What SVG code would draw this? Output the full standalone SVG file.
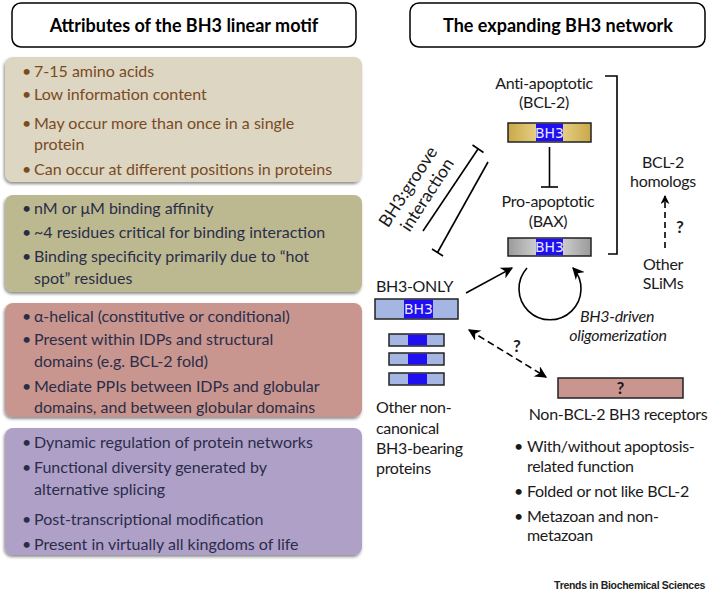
<svg xmlns="http://www.w3.org/2000/svg" width="708" height="594" viewBox="0 0 708 594">
<defs>
  <filter id="sh" x="-5%" y="-5%" width="110%" height="115%">
    <feDropShadow dx="-1" dy="2" stdDeviation="1.5" flood-color="#000" flood-opacity="0.45"/>
  </filter>
  <linearGradient id="gold" x1="0" x2="1" y1="0" y2="0">
    <stop offset="0" stop-color="#c9a848"/>
    <stop offset="0.4" stop-color="#ead48c"/>
    <stop offset="0.6" stop-color="#ead48c"/>
    <stop offset="1" stop-color="#c9a848"/>
  </linearGradient>
  <linearGradient id="grey" x1="0" x2="1" y1="0" y2="0">
    <stop offset="0" stop-color="#9a9a9a"/>
    <stop offset="0.4" stop-color="#d6d6d6"/>
    <stop offset="0.6" stop-color="#d6d6d6"/>
    <stop offset="1" stop-color="#9a9a9a"/>
  </linearGradient>
  <marker id="ah" viewBox="0 0 10 10" refX="9" refY="5" markerWidth="9" markerHeight="9" orient="auto-start-reverse" markerUnits="userSpaceOnUse">
    <path d="M0,0 L10,5 L0,10 L3,5 Z" fill="#000"/>
  </marker>
  <marker id="ahs" viewBox="0 0 10 10" refX="9" refY="5" markerWidth="12" markerHeight="12" orient="auto-start-reverse" markerUnits="userSpaceOnUse">
    <path d="M0,0 L10,5 L0,10 L3,5 Z" fill="#000"/>
  </marker>
</defs>
<style>
  text { font-family: Lato, "Liberation Sans", sans-serif; }
  .title { font-size: 18px; font-weight: bold; fill: #000; text-anchor: middle; }
  .lt { font-size: 16px; }
  .b1 { fill: #7b4a1f; }
  .bd { fill: #2b2d48; }
  .lbl { font-size: 16px; fill: #1a1a1a; letter-spacing: -0.3px; }
  .big { font-size: 17.5px; letter-spacing: 0; }
  .c { text-anchor: middle; }
  .it { font-style: italic; }
  .q { font-weight: bold; font-size: 17px; }
  .bh3 { font-family: "DejaVu Sans", sans-serif; font-size: 14px; fill: #e8e8ff; text-anchor: middle; }
  .ln { stroke: #000; stroke-width: 1.6; fill: none; }
  .bar { stroke: #222; stroke-width: 1.5; }
</style>

<g id="title-left">
  <rect x="12" y="3" width="344" height="44" rx="9" fill="#fff" stroke="#000" stroke-width="1.5"/>
  <text class="title" x="184" y="32">Attributes of the BH3 linear motif</text>
</g>
<g id="title-right">
  <rect x="410" y="3" width="295" height="44" rx="9" fill="#fff" stroke="#000" stroke-width="1.5"/>
  <text class="title" x="558" y="32">The expanding BH3 network</text>
</g>

<g id="box1">
  <rect x="5" y="57" width="357" height="125" rx="8" fill="#dcd6c2" filter="url(#sh)"/>
  <g class="lt b1">
    <text x="22" y="77">•</text><text x="34" y="77">7-15 amino acids</text>
    <text x="22" y="100">•</text><text x="34" y="100">Low information content</text>
    <text x="22" y="129">•</text><text x="34" y="129">May occur more than once in a single</text>
    <text x="34" y="150">protein</text>
    <text x="22" y="175">•</text><text x="34" y="175">Can occur at different positions in proteins</text>
  </g>
</g>
<g id="box2">
  <rect x="5" y="195" width="357" height="97" rx="8" fill="#bcb991" filter="url(#sh)"/>
  <g class="lt bd">
    <text x="22" y="214">•</text><text x="34" y="214">nM or μM binding affinity</text>
    <text x="22" y="238">•</text><text x="34" y="238">~4 residues critical for binding interaction</text>
    <text x="22" y="262">•</text><text x="34" y="262">Binding specificity primarily due to “hot</text>
    <text x="34" y="284">spot” residues</text>
  </g>
</g>
<g id="box3">
  <rect x="5" y="303" width="357" height="114" rx="8" fill="#c8968f" filter="url(#sh)"/>
  <g class="lt bd">
    <text x="22" y="322">•</text><text x="34" y="322">α-helical (constitutive or conditional)</text>
    <text x="22" y="345">•</text><text x="34" y="345">Present within IDPs and structural</text>
    <text x="34" y="367">domains (e.g. BCL-2 fold)</text>
    <text x="22" y="392">•</text><text x="34" y="392">Mediate PPIs between IDPs and globular</text>
    <text x="34" y="413">domains, and between globular domains</text>
  </g>
</g>
<g id="box4">
  <rect x="5" y="428" width="357" height="127" rx="8" fill="#afa0c8" filter="url(#sh)"/>
  <g class="lt bd">
    <text x="22" y="448">•</text><text x="34" y="448">Dynamic regulation of protein networks</text>
    <text x="22" y="473">•</text><text x="34" y="473">Functional diversity generated by</text>
    <text x="34" y="495">alternative splicing</text>
    <text x="22" y="525">•</text><text x="34" y="525">Post-transcriptional modification</text>
    <text x="22" y="550">•</text><text x="34" y="550">Present in virtually all kingdoms of life</text>
  </g>
</g>

<g id="bcl2">
  <text class="lbl c" x="544" y="89">Anti-apoptotic</text>
  <text class="lbl c" x="544" y="108">(BCL-2)</text>
  <rect class="bar" x="508" y="123" width="83" height="19" fill="url(#gold)"/>
  <rect x="536" y="123.75" width="27" height="17.5" fill="#200ff0"/>
  <text class="bh3" x="549.5" y="137.5">BH3</text>
</g>
<g id="bax">
  <text class="lbl c" x="548" y="207">Pro-apoptotic</text>
  <text class="lbl c" x="548" y="227">(BAX)</text>
  <rect class="bar" x="508" y="238" width="83" height="18" fill="url(#grey)"/>
  <rect x="536" y="238.75" width="27" height="16.5" fill="#200ff0"/>
  <text class="bh3" x="549.5" y="252">BH3</text>
</g>
<g id="homologs">
  <text class="lbl c" x="663" y="168">BCL-2</text>
  <text class="lbl c" x="663" y="187">homologs</text>
</g>
<g id="slims">
  <text class="lbl c" x="663" y="270">Other</text>
  <text class="lbl c" x="663" y="289">SLiMs</text>
</g>
<g id="bh3only">
  <text class="lbl" x="376" y="292">BH3-ONLY</text>
  <rect class="bar" x="375" y="299" width="83" height="20" fill="#a6b6e2"/>
  <rect x="404" y="299.75" width="29" height="18.5" fill="#200ff0"/>
  <text class="bh3" x="418.5" y="314">BH3</text>
</g>
<g id="noncanonical">
  <rect class="bar" x="389" y="334" width="55" height="12" fill="#a6b6e2"/>
  <rect x="408" y="334.75" width="19" height="10.5" fill="#200ff0"/>
  <rect class="bar" x="389" y="353" width="55" height="12" fill="#a6b6e2"/>
  <rect x="408" y="353.75" width="19" height="10.5" fill="#200ff0"/>
  <rect class="bar" x="389" y="373" width="55" height="12" fill="#a6b6e2"/>
  <rect x="408" y="373.75" width="19" height="10.5" fill="#200ff0"/>
  <text class="lbl" x="376" y="413">Other non-</text>
  <text class="lbl" x="376" y="434">canonical</text>
  <text class="lbl" x="376" y="454">BH3-bearing</text>
  <text class="lbl" x="376" y="474">proteins</text>
</g>
<g id="receptors">
  <rect class="bar" x="558" y="378" width="125" height="20" fill="#c9958f"/>
  <text class="q c" x="620.5" y="394" fill="#1a1a1a">?</text>
  <text class="lbl c" x="618" y="420">Non-BCL-2 BH3 receptors</text>
  <text class="lbl" x="514" y="452">•</text><text class="lbl" x="527" y="452">With/without apoptosis-</text>
  <text class="lbl" x="527" y="472">related function</text>
  <text class="lbl" x="514" y="497">•</text><text class="lbl" x="527" y="497">Folded or not like BCL-2</text>
  <text class="lbl" x="514" y="522">•</text><text class="lbl" x="527" y="522">Metazoan and non-</text>
  <text class="lbl" x="527" y="541">metazoan</text>
</g>
<g id="groove-label">
  <text class="lbl big c" transform="translate(413,190) rotate(-57)">BH3:groove</text>
  <text class="lbl big c" transform="translate(432,198) rotate(-57)">interaction</text>
</g>
<g id="oligo-label">
  <text class="lbl c it" x="617" y="322">BH3-driven</text>
  <text class="lbl c it" x="618" y="341">oligomerization</text>
</g>

<g id="connectors">
  <line class="ln" x1="549.5" y1="147" x2="549.5" y2="187"/>
  <line class="ln" x1="541" y1="187" x2="558" y2="187"/>
  <polyline class="ln" points="605,76 617,76 617,254 608,254"/>
  <line class="ln" x1="423" y1="231" x2="478" y2="149"/>
  <line class="ln" x1="472.5" y1="145" x2="483.5" y2="152.5"/>
  <line class="ln" x1="488" y1="162" x2="437.5" y2="252.5"/>
  <line class="ln" x1="432" y1="249" x2="443" y2="256"/>
  <line class="ln" x1="466" y1="293" x2="512" y2="268" marker-end="url(#ahs)"/>
  <path class="ln" d="M527,268 A31,31 0 1 0 573,268" marker-end="url(#ahs)"/>
  <line class="ln" x1="665" y1="248" x2="665" y2="196" stroke-dasharray="6,4" marker-end="url(#ah)"/>
  <text class="q" x="676" y="233" fill="#1a1a1a">?</text>
  <line class="ln" x1="469" y1="330" x2="546" y2="377" stroke-dasharray="7,4" marker-start="url(#ahs)" marker-end="url(#ahs)"/>
  <text class="q" x="513" y="352" fill="#1a1a1a">?</text>
</g>

<text x="705" y="589" text-anchor="end" style="font-family:'Liberation Sans',Arial,sans-serif;font-size:10.5px;font-weight:bold;letter-spacing:-0.3px" fill="#222">Trends in Biochemical Sciences</text>
</svg>
